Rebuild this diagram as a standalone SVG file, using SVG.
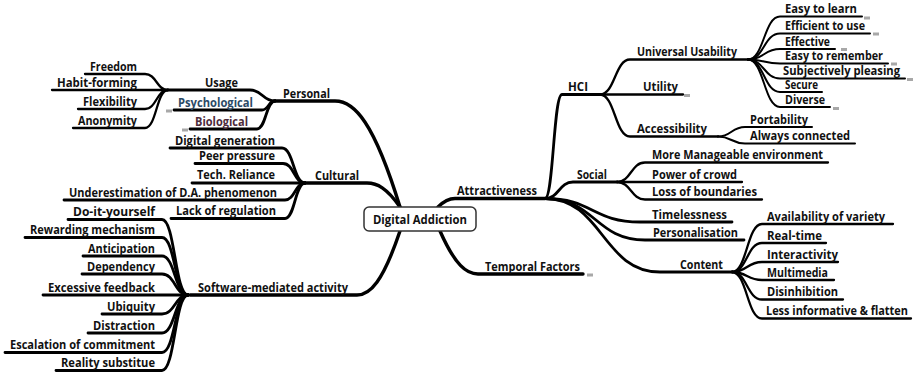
<svg xmlns="http://www.w3.org/2000/svg" width="914" height="374" viewBox="0 0 914 374">
<style>
text{font-family:"Open Sans","Liberation Sans",sans-serif;font-weight:700;font-size:11.5px;fill:#111}
.c path{fill:none;stroke:#000;stroke-linecap:round;stroke-linejoin:round}
.l1{stroke-width:3.4}
.l2{stroke-width:2.8}
.l3{stroke-width:2.3}
.l4{stroke-width:2}
.m{fill:#a8a8a8}
.root{fill:#fff;stroke:#333;stroke-width:1.5}
</style>
<rect width="914" height="374" fill="#fff"/>
<g id="connectors" class="c">
<path class="l1" d="M400,207 C374,122.2 354.5,101 335,101 L275,101"/>
<path class="l1" d="M400,207 C386.8,187.8 376.9,183 367,183 L305,183"/>
<path class="l1" d="M400,231 C382.8,282.2 369.9,295 357,295 L190,295"/>
<path class="l1" d="M438,207 C444.8,200.2 449.9,198.5 455,198.5 L545,198.5"/>
<path class="l1" d="M440,231 C455.2,265.4 466.6,274 478,274 L583,274"/>
<path class="l2" d="M275,101 C262.5,101 262.5,90 250,90 L168,90"/>
<path class="l2" d="M275,101 C268.5,101 268.5,110 262,110 L174,110"/>
<path class="l2" d="M275,101 C266,101 266,129 257,129 L190,129"/>
<path class="l3" d="M168,90 C156.5,90 156.5,74 145,74 L85,74"/>
<path class="l3" d="M168,90 L52,90"/>
<path class="l3" d="M168,90 C156.5,90 156.5,109 145,109 L78,109"/>
<path class="l3" d="M168,90 C156.5,90 156.5,128 145,128 L73,128"/>
<path class="l2" d="M305,183 C293.5,183 293.5,148 282,148 L170,148"/>
<path class="l2" d="M305,183 C294,183 294,163.5 283,163.5 L195,163.5"/>
<path class="l2" d="M305,183 L192,183"/>
<path class="l2" d="M305,183 C295,183 295,200 285,200 L64,200"/>
<path class="l2" d="M305,183 C295,183 295,218.5 285,218.5 L171,218.5"/>
<path class="l2" d="M188,295 C175,295 175,219.5 162,219.5 L68,219.5"/>
<path class="l2" d="M188,295 C175,295 175,237.5 162,237.5 L25,237.5"/>
<path class="l2" d="M188,295 C175,295 175,256 162,256 L83,256"/>
<path class="l2" d="M188,295 C175,295 175,274 162,274 L82,274"/>
<path class="l2" d="M188,295 L43,295"/>
<path class="l2" d="M188,295 C175,295 175,314 162,314 L102,314"/>
<path class="l2" d="M188,295 C175,295 175,333 162,333 L88,333"/>
<path class="l2" d="M188,295 C175,295 175,352.5 162,352.5 L5,352.5"/>
<path class="l2" d="M188,295 C175,295 175,370.5 162,370.5 L56,370.5"/>
<path class="l2" d="M545,198.5 C553.5,198.5 553.5,94.5 562,94.5 L600,94.5"/>
<path class="l2" d="M545,198.5 C559,198.5 559,182 573,182 L617,182"/>
<path class="l2" d="M545,198.5 C592.5,198.5 592.5,222 640,222 L732,222"/>
<path class="l2" d="M545,198.5 C595,198.5 595,240 645,240 L744,240"/>
<path class="l2" d="M545,198.5 C602.5,198.5 602.5,272 660,272 L732,272"/>
<path class="l3" d="M600,94.5 C615,94.5 615,59.5 630,59.5 L748,59.5"/>
<path class="l3" d="M600,94.5 L683,94.5"/>
<path class="l3" d="M600,94.5 C615,94.5 615,136.5 630,136.5 L718,136.5"/>
<path class="l4" d="M748,59.5 C764,59.5 764,16.5 780,16.5 L862,16.5"/>
<path class="l4" d="M748,59.5 C764,59.5 764,33.5 780,33.5 L870,33.5"/>
<path class="l4" d="M748,59.5 C764,59.5 764,49 780,49 L835,49"/>
<path class="l4" d="M748,59.5 C764,59.5 764,63.5 780,63.5 L888,63.5"/>
<path class="l4" d="M748,59.5 C764,59.5 764,78.5 780,78.5 L905,78.5"/>
<path class="l4" d="M748,59.5 C764,59.5 764,92 780,92 L822,92"/>
<path class="l4" d="M748,59.5 C764,59.5 764,107 780,107 L830,107"/>
<path class="l4" d="M718,136.5 C731.5,136.5 731.5,127 745,127 L812,127"/>
<path class="l4" d="M718,136.5 C731.5,136.5 731.5,143.5 745,143.5 L855,143.5"/>
<path class="l3" d="M617,182 C631,182 631,162.5 645,162.5 L828,162.5"/>
<path class="l3" d="M617,182 L742,182"/>
<path class="l3" d="M617,182 C631,182 631,199.5 645,199.5 L762,199.5"/>
<path class="l3" d="M732,272 C747,272 747,224 762,224 L893,224"/>
<path class="l3" d="M732,272 C747,272 747,243 762,243 L826,243"/>
<path class="l3" d="M732,272 C747,272 747,262 762,262 L838,262"/>
<path class="l3" d="M732,272 C747,272 747,280 762,280 L834,280"/>
<path class="l3" d="M732,272 C747,272 747,299.5 762,299.5 L843,299.5"/>
<path class="l3" d="M732,272 C747,272 747,318.5 762,318.5 L911,318.5"/>
</g>
<g id="n-root"><rect class="root" x="364" y="207" width="112" height="24" rx="5"/><text x="373" y="224" textLength="94" lengthAdjust="spacingAndGlyphs" style="font-size:12px">Digital Addiction</text></g>
<g id="n-personal"><text x="283" y="97.5" textLength="47" lengthAdjust="spacingAndGlyphs">Personal</text></g>
<g id="n-usage"><text x="205" y="86.5" textLength="33" lengthAdjust="spacingAndGlyphs">Usage</text></g>
<g id="n-psychological"><rect class="m" x="166" y="109.5" width="6" height="3"/><text x="178" y="106.5" textLength="75" lengthAdjust="spacingAndGlyphs" style="fill:#2b4a66">Psychological</text></g>
<g id="n-biological"><rect class="m" x="182" y="128.5" width="6" height="3"/><text x="195" y="125.5" textLength="53" lengthAdjust="spacingAndGlyphs" style="fill:#4d2b3b">Biological</text></g>
<g id="n-freedom"><text x="90" y="70.5" textLength="47" lengthAdjust="spacingAndGlyphs">Freedom</text></g>
<g id="n-habit"><text x="57" y="86.5" textLength="80" lengthAdjust="spacingAndGlyphs">Habit-forming</text></g>
<g id="n-flexibility"><text x="83" y="105.5" textLength="54" lengthAdjust="spacingAndGlyphs">Flexibility</text></g>
<g id="n-anonymity"><text x="78" y="124.5" textLength="59" lengthAdjust="spacingAndGlyphs">Anonymity</text></g>
<g id="n-cultural"><text x="315" y="179.5" textLength="44" lengthAdjust="spacingAndGlyphs">Cultural</text></g>
<g id="n-digitalgen"><text x="175" y="144.5" textLength="100" lengthAdjust="spacingAndGlyphs">Digital generation</text></g>
<g id="n-peer"><text x="199" y="160" textLength="76" lengthAdjust="spacingAndGlyphs">Peer pressure</text></g>
<g id="n-tech"><text x="197" y="179" textLength="78" lengthAdjust="spacingAndGlyphs">Tech. Reliance</text></g>
<g id="n-under"><text x="69" y="196.5" textLength="208" lengthAdjust="spacingAndGlyphs">Underestimation of D.A. phenomenon</text></g>
<g id="n-lack"><text x="176" y="215" textLength="100" lengthAdjust="spacingAndGlyphs">Lack of regulation</text></g>
<g id="n-software"><text x="198" y="291.5" textLength="150" lengthAdjust="spacingAndGlyphs">Software-mediated activity</text></g>
<g id="n-diy"><text x="73" y="216" textLength="82" lengthAdjust="spacingAndGlyphs">Do-it-yourself</text></g>
<g id="n-reward"><text x="30" y="234" textLength="125" lengthAdjust="spacingAndGlyphs">Rewarding mechanism</text></g>
<g id="n-anticipation"><text x="88" y="252.5" textLength="67" lengthAdjust="spacingAndGlyphs">Anticipation</text></g>
<g id="n-dependency"><text x="87" y="270.5" textLength="68" lengthAdjust="spacingAndGlyphs">Dependency</text></g>
<g id="n-excessive"><text x="48" y="291.5" textLength="107" lengthAdjust="spacingAndGlyphs">Excessive feedback</text></g>
<g id="n-ubiquity"><text x="107" y="310.5" textLength="48" lengthAdjust="spacingAndGlyphs">Ubiquity</text></g>
<g id="n-distraction"><text x="93" y="329.5" textLength="62" lengthAdjust="spacingAndGlyphs">Distraction</text></g>
<g id="n-escalation"><text x="10" y="349" textLength="145" lengthAdjust="spacingAndGlyphs">Escalation of commitment</text></g>
<g id="n-reality"><text x="61" y="367" textLength="94" lengthAdjust="spacingAndGlyphs">Reality substitue</text></g>
<g id="n-attract"><text x="457" y="195" textLength="80" lengthAdjust="spacingAndGlyphs">Attractiveness</text></g>
<g id="n-temporal"><rect class="m" x="587" y="273.5" width="6" height="3"/><text x="485" y="270.5" textLength="95" lengthAdjust="spacingAndGlyphs">Temporal Factors</text></g>
<g id="n-hci"><text x="568" y="90.5" textLength="20" lengthAdjust="spacingAndGlyphs">HCI</text></g>
<g id="n-social"><text x="577" y="178.5" textLength="30" lengthAdjust="spacingAndGlyphs">Social</text></g>
<g id="n-timeless"><text x="652" y="218.5" textLength="75" lengthAdjust="spacingAndGlyphs">Timelessness</text></g>
<g id="n-personalisation"><text x="653" y="236.5" textLength="85" lengthAdjust="spacingAndGlyphs">Personalisation</text></g>
<g id="n-content"><text x="680" y="268.5" textLength="43" lengthAdjust="spacingAndGlyphs">Content</text></g>
<g id="n-uu"><text x="637" y="56" textLength="100" lengthAdjust="spacingAndGlyphs">Universal Usability</text></g>
<g id="n-utility"><rect class="m" x="684" y="94" width="6" height="3"/><text x="643" y="91" textLength="35" lengthAdjust="spacingAndGlyphs">Utility</text></g>
<g id="n-access"><text x="637" y="133" textLength="70" lengthAdjust="spacingAndGlyphs">Accessibility</text></g>
<g id="n-easylearn"><rect class="m" x="864" y="16.5" width="6" height="3"/><text x="785" y="13" textLength="72" lengthAdjust="spacingAndGlyphs">Easy to learn</text></g>
<g id="n-efficient"><rect class="m" x="873" y="32.5" width="6" height="3"/><text x="785" y="30" textLength="80" lengthAdjust="spacingAndGlyphs">Efficient to use</text></g>
<g id="n-effective"><rect class="m" x="841" y="48" width="6" height="3"/><text x="785" y="45.5" textLength="45" lengthAdjust="spacingAndGlyphs">Effective</text></g>
<g id="n-remember"><rect class="m" x="891" y="62.5" width="6" height="3"/><text x="785" y="60" textLength="98" lengthAdjust="spacingAndGlyphs">Easy to remember</text></g>
<g id="n-pleasing"><rect class="m" x="907" y="78" width="6" height="3"/><text x="783" y="75" textLength="117" lengthAdjust="spacingAndGlyphs">Subjectively pleasing</text></g>
<g id="n-secure"><text x="785" y="88.5" textLength="33" lengthAdjust="spacingAndGlyphs">Secure</text></g>
<g id="n-diverse"><rect class="m" x="833" y="107" width="6" height="3"/><text x="785" y="103.5" textLength="40" lengthAdjust="spacingAndGlyphs">Diverse</text></g>
<g id="n-portability"><text x="750" y="123.5" textLength="58" lengthAdjust="spacingAndGlyphs">Portability</text></g>
<g id="n-always"><text x="750" y="140" textLength="100" lengthAdjust="spacingAndGlyphs">Always connected</text></g>
<g id="n-manageable"><text x="652" y="159" textLength="171" lengthAdjust="spacingAndGlyphs">More Manageable environment</text></g>
<g id="n-crowd"><text x="652" y="178.5" textLength="85" lengthAdjust="spacingAndGlyphs">Power of crowd</text></g>
<g id="n-boundaries"><text x="652" y="196" textLength="105" lengthAdjust="spacingAndGlyphs">Loss of boundaries</text></g>
<g id="n-variety"><text x="767" y="220.5" textLength="118" lengthAdjust="spacingAndGlyphs">Availability of variety</text></g>
<g id="n-realtime"><text x="767" y="239.5" textLength="55" lengthAdjust="spacingAndGlyphs">Real-time</text></g>
<g id="n-interactivity"><text x="767" y="258.5" textLength="71" lengthAdjust="spacingAndGlyphs">Interactivity</text></g>
<g id="n-multimedia"><text x="767" y="276.5" textLength="61" lengthAdjust="spacingAndGlyphs">Multimedia</text></g>
<g id="n-disinhibition"><text x="767" y="296" textLength="71" lengthAdjust="spacingAndGlyphs">Disinhibition</text></g>
<g id="n-less"><text x="766" y="315" textLength="142" lengthAdjust="spacingAndGlyphs">Less informative &amp; flatten</text></g>
</svg>
